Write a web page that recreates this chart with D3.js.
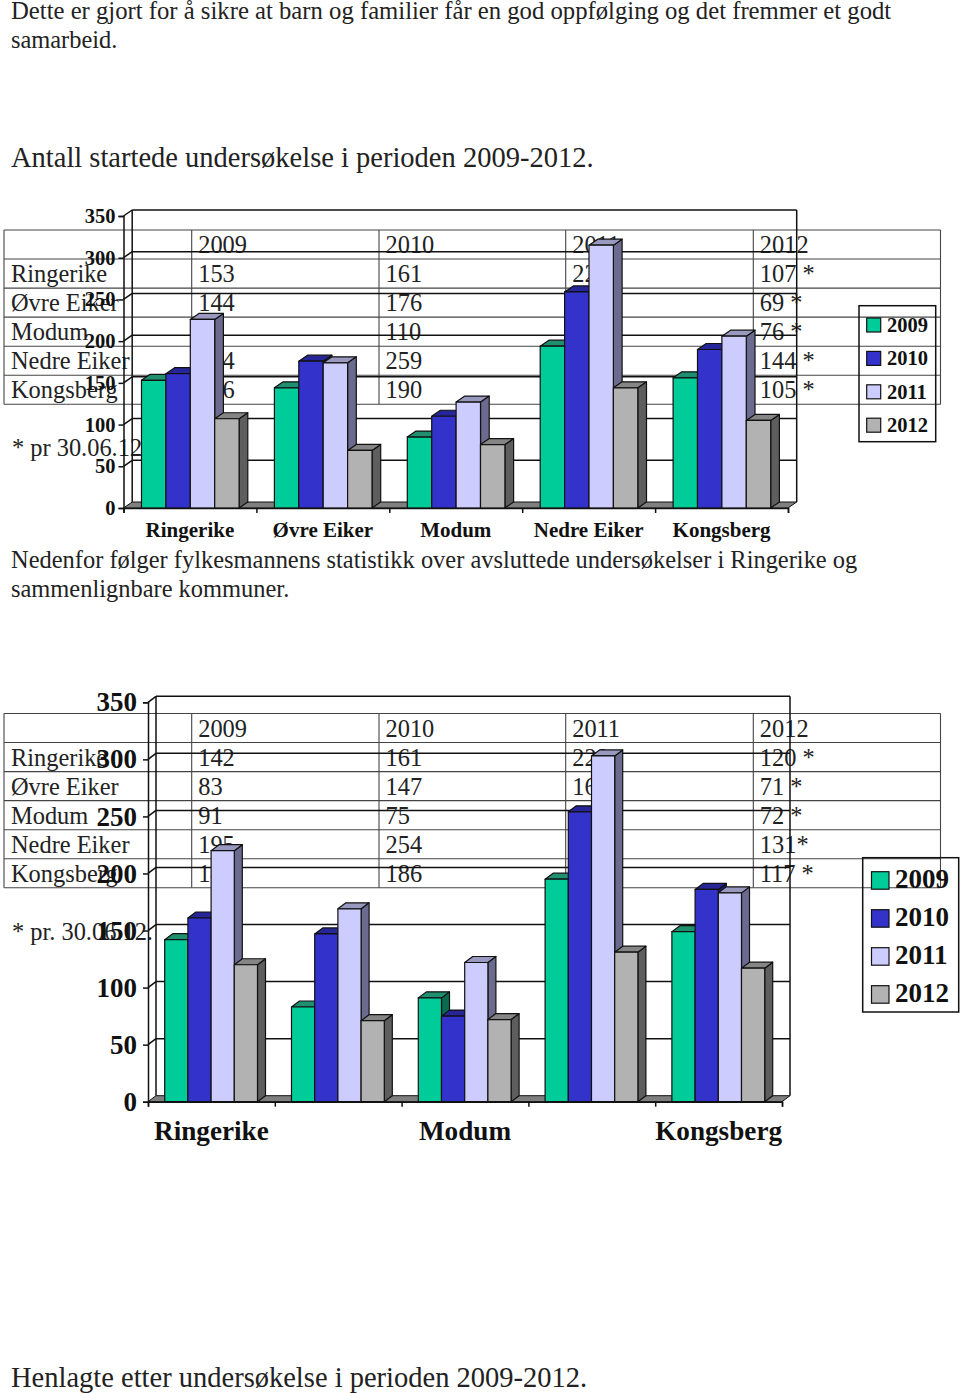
<!DOCTYPE html>
<html><head><meta charset="utf-8">
<script src="https://cdn.jsdelivr.net/npm/d3@7"></script>
<style>html,body{margin:0;padding:0;background:#fff}svg{display:block}
text{font-family:"Liberation Serif",serif}</style></head>
<body><svg id="c" width="960" height="1393"></svg>
<script>
const municipalities = ["Ringerike","Øvre Eiker","Modum","Nedre Eiker","Kongsberg"];
const years = ["2009","2010","2011","2012"];
const yTicks = [0,50,100,150,200,250,300,350];

// Startede undersøkelser
const started2009 = [153,144,85,194,156];
const started2010 = [161,176,110,259,190];
const started2011 = [226,174,127,315,206];
const started2012 = [107,69,76,144,105];
const startedNotes = [" *"," *"," *"," *"," *"];

// Avsluttede undersøkelser
const closed2009 = [142,83,91,195,149];
const closed2010 = [161,147,75,254,186];
const closed2011 = [220,169,122,303,183];
const closed2012 = [120,71,72,131,117];
const closedNotes = [" *"," *"," *","*"," *"];

const paragraphs = [
 {t:"Dette er gjort for å sikre at barn og familier får en god oppfølging og det fremmer et godt",y:19,s:24.7},
 {t:"samarbeid.",y:48,s:24.4},
 {t:"Antall startede undersøkelse i perioden 2009-2012.",y:167,s:28.5},
 {t:"Nedenfor følger fylkesmannens statistikk over avsluttede undersøkelser i Ringerike og",y:568,s:24.45},
 {t:"sammenlignbare kommuner.",y:597,s:24.45},
 {t:"Henlagte etter undersøkelse i perioden 2009-2012.",y:1387,s:28.5}
];

const seriesFill = ["#00CC99","#3333CC","#CCCCFF","#B2B2B2"];
const seriesTop  = ["#1F8F6F","#262699","#9999BF","#858585"];
const seriesSide = ["#0A6B50","#1A1A70","#6B6B8F","#5E5E5E"];

const svg = d3.select("#c");
const ink = "#222";

svg.append("g").selectAll("text").data(paragraphs).join("text")
  .attr("x",11).attr("y",d=>d.y).attr("font-size",d=>d.s).attr("fill",ink).text(d=>d.t);

function table(top, cols, note){
  const g = svg.append("g");
  const rowH = 29.05, colX=[191.7,379,565.7,753.3], L=4, R=940.5;
  const rows = municipalities.length+1;
  d3.range(rows+1).forEach(i=>g.append("line").attr("x1",L).attr("x2",R)
     .attr("y1",top+i*rowH).attr("y2",top+i*rowH).attr("stroke","#444").attr("stroke-width",1.1));
  [L,...colX,R].forEach(x=>g.append("line").attr("x1",x).attr("x2",x)
     .attr("y1",top).attr("y2",top+rows*rowH).attr("stroke","#444").attr("stroke-width",1.1));
  const txt=(x,r,s)=>g.append("text").attr("x",x).attr("y",top+r*rowH+23).attr("font-size",24.4).attr("fill",ink).text(s);
  years.forEach((y,j)=>txt(colX[j]+6.5,0,y));
  municipalities.forEach((m,i)=>{
    txt(11,i+1,m);
    cols.forEach((c,j)=>txt(colX[j]+6.5,i+1,c[i]+(j===3?note[i]:"")));
  });
}

function chart(o){
  const g = svg.append("g");
  const y = d3.scaleLinear().domain([0,350]).range([o.y0,o.y350]);
  const band = d3.scaleBand().domain(municipalities).range([o.xL,o.xR]);
  const dx=o.dx, dy=o.dy;
  const xTick = d3.scaleLinear().domain([0,5]).range([o.xL,o.xR]);
  const ln=(x1,y1,x2,y2,w=1.5)=>g.append("line").attr("x1",x1).attr("y1",y1).attr("x2",x2).attr("y2",y2)
      .attr("stroke","#111").attr("stroke-width",w);

  // walls
  yTicks.forEach(t=>{
    if(t>0) ln(o.xL,y(t),o.xL+dx,y(t)-dy);
    if(t>0) ln(o.xL+dx,y(t)-dy,o.xR+dx,y(t)-dy);
  });
  ln(o.xL+dx,o.y0-dy,o.xL+dx,o.y350-dy);
  ln(o.xR+dx,o.y0-dy,o.xR+dx,o.y350-dy);

  // floor
  g.append("path").attr("fill","#7f7f7f").attr("stroke","#111").attr("stroke-width",1)
    .attr("d",d3.line()([[o.xL,o.y0],[o.xL+dx,o.y0-dy],[o.xR+dx,o.y0-dy],[o.xR,o.y0]])+"Z");

  // bars
  const inner = d3.scaleBand().domain(years).range([0,o.bw*4]);
  const w = inner.bandwidth();
  const line = d3.line();
  municipalities.forEach((m,i)=>{
    o.cols.forEach((c,j)=>{
      const x0 = band(m)+o.off+inner(years[j]), x1=x0+w, t=y(c[i]), b=o.y0;
      const bar = g.append("g").attr("stroke","#111").attr("stroke-width",1.2).attr("stroke-linejoin","round");
      bar.append("path").attr("fill",seriesSide[j]).attr("d",line([[x1,t],[x1+dx,t-dy],[x1+dx,b-dy],[x1,b]])+"Z");
      bar.append("path").attr("fill",seriesTop[j]).attr("d",line([[x0,t],[x0+dx,t-dy],[x1+dx,t-dy],[x1,t]])+"Z");
      bar.append("path").attr("fill",seriesFill[j]).attr("d",line([[x0,t],[x1,t],[x1,b],[x0,b]])+"Z");
    });
  });

  // axes
  const ay = g.append("g").attr("transform",`translate(${o.xL},0)`)
     .call(d3.axisLeft(y).tickValues(yTicks).tickSize(5).tickPadding(o.tickPad).tickFormat(d3.format("d")));
  ay.selectAll("text").attr("font-size",o.fs).attr("font-weight","bold").attr("font-family","Liberation Serif").attr("fill","#111");
  ay.selectAll("line,path").attr("stroke","#111").attr("stroke-width",1.5);
  const ax = g.append("g").attr("transform",`translate(0,${o.y0})`)
     .call(d3.axisBottom(xTick).tickValues(d3.range(6)).tickSize(5).tickFormat(""));
  ax.selectAll("line,path").attr("stroke","#111").attr("stroke-width",1.5);
  const al = g.append("g").attr("transform",`translate(0,${o.y0})`)
     .call(d3.axisBottom(band).tickValues(o.labels).tickSize(0).tickPadding(o.catPad));
  al.select("path").remove();
  al.selectAll("text").attr("font-size",o.catFs).attr("font-weight","bold").attr("font-family","Liberation Serif").attr("fill","#111");

  // legend
  const lg = svg.append("g");
  lg.append("rect").attr("x",o.lg.x).attr("y",o.lg.y).attr("width",o.lg.w).attr("height",o.lg.h)
    .attr("fill","none").attr("stroke","#111").attr("stroke-width",1.5);
  years.forEach((yr,j)=>{
    const sy=o.lg.sy+j*o.lg.step;
    lg.append("rect").attr("x",o.lg.sx).attr("y",sy).attr("width",o.lg.ss).attr("height",o.lg.ss)
      .attr("fill",seriesFill[j]).attr("stroke","#111").attr("stroke-width",1.2);
    lg.append("text").attr("x",o.lg.tx).attr("y",sy+o.lg.ss/2+o.lg.ty).attr("dy","0.34em")
      .attr("font-size",o.lg.fs).attr("font-weight","bold").attr("fill","#111").text(yr);
  });
}

table(230,[started2009,started2010,started2011,started2012],startedNotes);
svg.append("text").attr("x",12).attr("y",456).attr("font-size",24.4).attr("fill",ink).text("* pr 30.06.12");
chart({y0:508,y350:216,xL:123.5,xR:788,dx:8.7,dy:6,bw:24.4,off:18,fs:20.5,catFs:21,tickPad:3,catPad:14,
  cols:[started2009,started2010,started2011,started2012],labels:municipalities,
  lg:{x:859,y:305.7,w:76.7,h:136,sx:866.7,sy:318,ss:14,step:33.4,tx:887,fs:20.5,ty:0}});

table(713.5,[closed2009,closed2010,closed2011,closed2012],closedNotes);
svg.append("text").attr("x",12).attr("y",940).attr("font-size",24.4).attr("fill",ink).text("* pr. 30.06.12.");
chart({y0:1101.7,y350:702.3,xL:148,xR:782,dx:8,dy:6,bw:23.2,off:16.7,fs:27,catFs:27.2,tickPad:6,catPad:19,
  cols:[closed2009,closed2010,closed2011,closed2012],
  labels:municipalities.filter((d,i)=>i%2===0),
  lg:{x:862.7,y:857.7,w:96,h:154.3,sx:871.5,sy:871.7,ss:17.5,step:38,tx:895,fs:27,ty:-2}});
</script></body></html>
